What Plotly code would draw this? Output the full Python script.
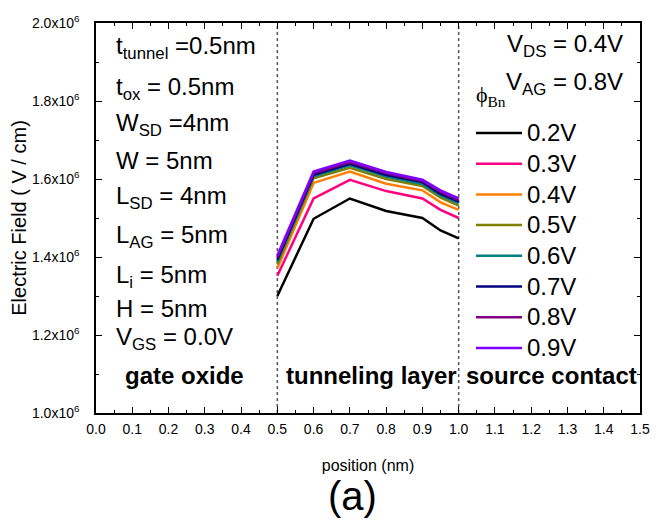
import plotly.graph_objects as go

# ---------------- data ----------------
position_nm = [0.5, 0.6, 0.7, 0.8, 0.9, 0.95, 1.0]

phi_labels = ["0.2V", "0.3V", "0.4V", "0.5V", "0.6V", "0.7V", "0.8V", "0.9V"]

field_02 = [1.300e6, 1.498e6, 1.550e6, 1.518e6, 1.500e6, 1.468e6, 1.448e6]
field_03 = [1.352e6, 1.550e6, 1.598e6, 1.569e6, 1.550e6, 1.521e6, 1.500e6]
field_04 = [1.371e6, 1.590e6, 1.619e6, 1.588e6, 1.571e6, 1.540e6, 1.521e6]
field_05 = [1.381e6, 1.602e6, 1.629e6, 1.600e6, 1.582e6, 1.552e6, 1.532e6]
field_06 = [1.388e6, 1.607e6, 1.635e6, 1.606e6, 1.587e6, 1.558e6, 1.538e6]
field_07 = [1.393e6, 1.611e6, 1.639e6, 1.610e6, 1.592e6, 1.562e6, 1.542e6]
field_08 = [1.398e6, 1.615e6, 1.643e6, 1.615e6, 1.595e6, 1.567e6, 1.546e6]
field_09 = [1.404e6, 1.619e6, 1.647e6, 1.618e6, 1.598e6, 1.571e6, 1.550e6]

series_values = [field_02, field_03, field_04, field_05,
                 field_06, field_07, field_08, field_09]

series_colors = ["#000000", "#FF0080", "#FF8000", "#808000",
                 "#008080", "#000080", "#800080", "#8000FF"]

region_bounds = [0.5, 1.0]

y_tick_vals = [1.0e6, 1.2e6, 1.4e6, 1.6e6, 1.8e6, 2.0e6]
y_tick_text = ["1.0x10<sup>6</sup>", "1.2x10<sup>6</sup>", "1.4x10<sup>6</sup>",
               "1.6x10<sup>6</sup>", "1.8x10<sup>6</sup>", "2.0x10<sup>6</sup>"]

param_text = ["t<sub>tunnel</sub> =0.5nm", "t<sub>ox</sub> = 0.5nm",
              "W<sub>SD</sub> =4nm", "W = 5nm", "L<sub>SD</sub> = 4nm",
              "L<sub>AG</sub> = 5nm", "L<sub>i</sub> = 5nm", "H = 5nm",
              "V<sub>GS</sub> = 0.0V"]

region_text = ["gate oxide", "tunneling layer", "source contact"]

# ---------------- figure ----------------
# the page body adds an 8px margin, so the figure is laid out 8px up/left
W, H = 661, 516
ML, MR, MT, MB = 88, 29, 5, 111
PW, PH = W - ML - MR, H - MT - MB

def px(x):
    return (x - ML) / PW

def py(y):
    return (H - MB - y) / PH

FONT = "Arial, Liberation Sans, sans-serif"

fig = go.Figure()
for name, vals, col in zip(phi_labels, series_values, series_colors):
    fig.add_trace(go.Scatter(x=position_nm, y=vals, mode="lines",
                             name='<span style="font-size:24px">' + name + '</span>',
                             line=dict(color=col, width=2.5)))

for xb in region_bounds:
    fig.add_shape(type="line", xref="x", yref="paper", x0=xb, x1=xb, y0=0, y1=1,
                  line=dict(color="#555555", width=1.5, dash="dot"), layer="below")

ann = []
param_baselines = [36, 78, 115, 154, 190, 230, 271, 306, 335]
for t, b in zip(param_text, param_baselines):
    ann.append(dict(text=t, xref="paper", yref="paper", x=px(107), y=py(b - 23),
                    xanchor="left", yanchor="top", showarrow=False, borderpad=0,
                    font=dict(size=24, color="black", family=FONT)))

region_left = [116, 277, 457]
for t, l in zip(region_text, region_left):
    ann.append(dict(text="<b>" + t + "</b>", xref="paper", yref="paper", x=px(l), y=py(375 - 23),
                    xanchor="left", yanchor="top", showarrow=False, borderpad=0,
                    font=dict(size=24, color="black", family=FONT)))

ann.append(dict(text="V<sub>DS</sub> = 0.4V", xref="paper", yref="paper", x=px(616), y=py(34 - 23),
                xanchor="right", yanchor="top", showarrow=False, borderpad=0,
                font=dict(size=24, color="black", family=FONT)))
ann.append(dict(text="V<sub>AG</sub> = 0.8V", xref="paper", yref="paper", x=px(616), y=py(73 - 23),
                xanchor="right", yanchor="top", showarrow=False, borderpad=0,
                font=dict(size=24, color="black", family=FONT)))
ann.append(dict(text="\u03d5<sub>Bn</sub>", xref="paper", yref="paper", x=px(467), y=py(84 - 20),
                xanchor="left", yanchor="top", showarrow=False, borderpad=0,
                font=dict(size=22, color="black", family="Times New Roman, Liberation Serif, serif")))
ann.append(dict(text="(a)", xref="paper", yref="paper", x=px(344), y=py(490),
                xanchor="center", yanchor="middle", showarrow=False, borderpad=0,
                font=dict(size=40, color="black", family=FONT)))

fig.update_layout(
    width=W, height=H,
    margin=dict(l=ML, r=MR, t=MT, b=MB),
    paper_bgcolor="white", plot_bgcolor="white",
    font=dict(family=FONT, color="black"),
    showlegend=True,
    legend=dict(x=px(463), y=py(97), xanchor="left", yanchor="top",
                bgcolor="rgba(0,0,0,0)", borderwidth=0,
                font=dict(size=21.3, color="black", family=FONT),
                itemwidth=46, tracegroupgap=0),
    annotations=ann,
)

fig.update_xaxes(range=[0, 1.5], dtick=0.1, tick0=0, tickformat=".1f",
                 showgrid=False, zeroline=False,
                 showline=True, linecolor="black", linewidth=1.5, mirror="allticks",
                 ticks="inside", ticklen=6, tickwidth=1, tickcolor="black",
                 minor=dict(dtick=0.05, ticks="inside", ticklen=3, tickcolor="black"),
                 tickfont=dict(size=14, color="black", family=FONT),
                 ticklabelstandoff=2, ticklabeloverflow="allow",
                 title=dict(text="position (nm)", font=dict(size=16, color="black", family=FONT),
                            standoff=24))
fig.update_yaxes(range=[1.0e6, 2.0e6], tickmode="array", tickvals=y_tick_vals, ticktext=y_tick_text,
                 showgrid=False, zeroline=False,
                 showline=True, linecolor="black", linewidth=1.5, mirror="allticks",
                 ticks="inside", ticklen=6, tickwidth=1, tickcolor="black",
                 minor=dict(tickmode="linear", tick0=1.0e6, dtick=1.0e5, ticks="inside",
                            ticklen=3, tickcolor="black"),
                 tickfont=dict(size=14, color="black", family=FONT),
                 ticklabelstandoff=12, ticklabeloverflow="allow",
                 title=dict(text="Electric Field ( V / cm)", font=dict(size=20, color="black", family=FONT),
                            standoff=3))

fig.write_html("out.html")
